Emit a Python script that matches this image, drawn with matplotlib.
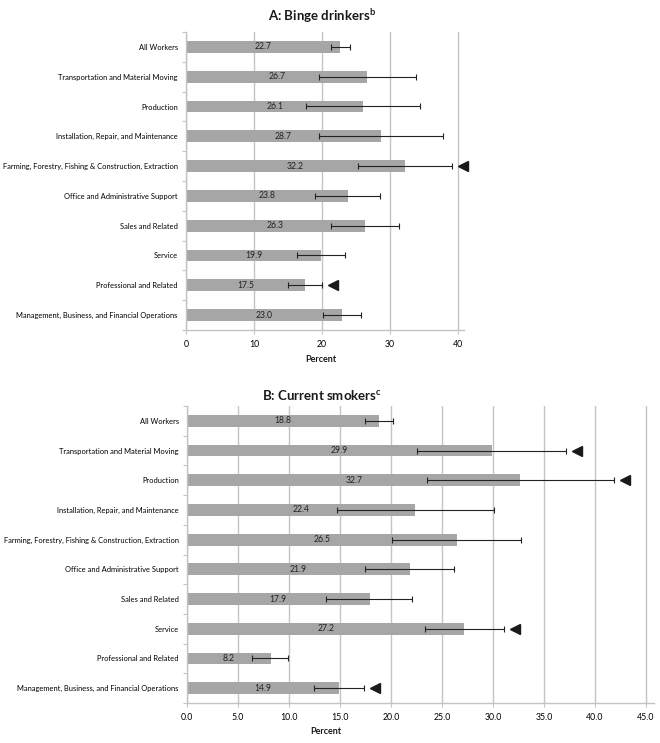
import matplotlib
matplotlib.use("Agg")
import matplotlib.pyplot as plt
import numpy as np

plt.rcParams['font.family'] = ['Lato', 'DejaVu Sans']

categories = ["All Workers",
              "Transportation and Material Moving",
              "Production",
              "Installation, Repair, and Maintenance",
              "Farming, Forestry, Fishing & Construction, Extraction",
              "Office and Administrative Support",
              "Sales and Related",
              "Service",
              "Professional and Related",
              "Management, Business, and Financial Operations"]

# A: binge drinkers
binge = [22.7, 26.7, 26.1, 28.7, 32.2, 23.8, 26.3, 19.9, 17.5, 23.0]
binge_lo = [21.3, 19.5, 17.7, 19.6, 25.3, 19.0, 21.3, 16.4, 15.0, 20.2]
binge_hi = [24.1, 33.8, 34.5, 37.8, 39.1, 28.5, 31.4, 23.4, 20.0, 25.7]
binge_flag = [0, 0, 0, 0, 1, 0, 0, 0, 1, 0]

# B: current smokers
smoke = [18.8, 29.9, 32.7, 22.4, 26.5, 21.9, 17.9, 27.2, 8.2, 14.9]
smoke_lo = [17.5, 22.6, 23.5, 14.7, 20.1, 17.5, 13.6, 23.3, 6.4, 12.5]
smoke_hi = [20.2, 37.2, 41.9, 30.1, 32.8, 26.2, 22.1, 31.1, 9.9, 17.4]
smoke_flag = [0, 1, 1, 0, 0, 0, 0, 1, 0, 1]

W, H = 660, 743
fig = plt.figure(figsize=(6.6, 7.43), dpi=100)

def px_axes(l, t, r, b):
    return fig.add_axes([l / W, 1 - b / H, (r - l) / W, (b - t) / H])

grid_c = '#c4c4c4'


def panel(ax, vals, lo, hi, flag, xmax, ticks, fmt):
    y = np.arange(len(categories))
    ax.set_xlim(0, xmax)
    ax.set_ylim(len(categories) - 0.5, -0.5)
    ax.set_xticks(ticks)
    ax.set_xticklabels([fmt.format(t) for t in ticks], fontsize=6.3)
    ax.grid(axis='x', color=grid_c, lw=1.0)
    ax.set_axisbelow(True)
    ax.barh(y, vals, height=0.4, color='#a6a6a6', zorder=2)
    v = np.array(vals)
    ax.errorbar(v, y, xerr=[v - np.array(lo), np.array(hi) - v], fmt='none',
                ecolor='#222222', elinewidth=0.8, capsize=2, capthick=0.8, zorder=3)
    for i, val in enumerate(vals):
        ax.text(val / 2, i, f"{val:.1f}", ha='center', va='center', fontsize=6.2,
                color='#222222', zorder=4)
    # offset of significance marker in data units (~11 px)
    ax_w_px = ax.get_position().width * W
    off = 11 * xmax / ax_w_px
    for i, f in enumerate(flag):
        if f:
            ax.plot(hi[i] + off, i, marker='<', color='#1a1a1a', markersize=7.5,
                    zorder=4, clip_on=False)
    ax.set_yticks(y)
    ax.set_yticklabels(categories, fontsize=5.4)
    ax.set_yticks(np.arange(len(categories) + 1) - 0.5, minor=True)
    ax.tick_params(axis='y', which='major', length=0, pad=6)
    ax.tick_params(axis='y', which='minor', length=3, color=grid_c, width=0.8)
    ax.tick_params(axis='x', length=3, color=grid_c, width=0.8, pad=4)
    for s in ['top', 'right']:
        ax.spines[s].set_visible(False)
    for s in ['left', 'bottom']:
        ax.spines[s].set_color(grid_c)
        ax.spines[s].set_linewidth(1.0)


axA = px_axes(186, 32, 464, 330)
panel(axA, binge, binge_lo, binge_hi, binge_flag, 40.9, [0, 10, 20, 30, 40], "{:.0f}")

axB = px_axes(187, 406, 654, 703)
panel(axB, smoke, smoke_lo, smoke_hi, smoke_flag, 45.8,
      [0, 5, 10, 15, 20, 25, 30, 35, 40, 45], "{:.1f}")

fig.text(322 / W, 1 - 16 / H, r"A: Binge drinkers$^{\mathregular{b}}$", ha='center',
         va='center', fontsize=9.5, fontweight='bold', color='#1a1a1a')
fig.text(322 / W, 1 - 395 / H, r"B: Current smokers$^{\mathregular{c}}$", ha='center',
         va='center', fontsize=9.5, fontweight='bold', color='#1a1a1a')
fig.text(321 / W, 1 - 360 / H, "Percent", ha='center', va='center', fontsize=6.5,
         fontweight='bold', color='#1a1a1a')
fig.text(326 / W, 1 - 732 / H, "Percent", ha='center', va='center', fontsize=6.5,
         fontweight='bold', color='#1a1a1a')

fig.savefig("out.png", dpi=100)
